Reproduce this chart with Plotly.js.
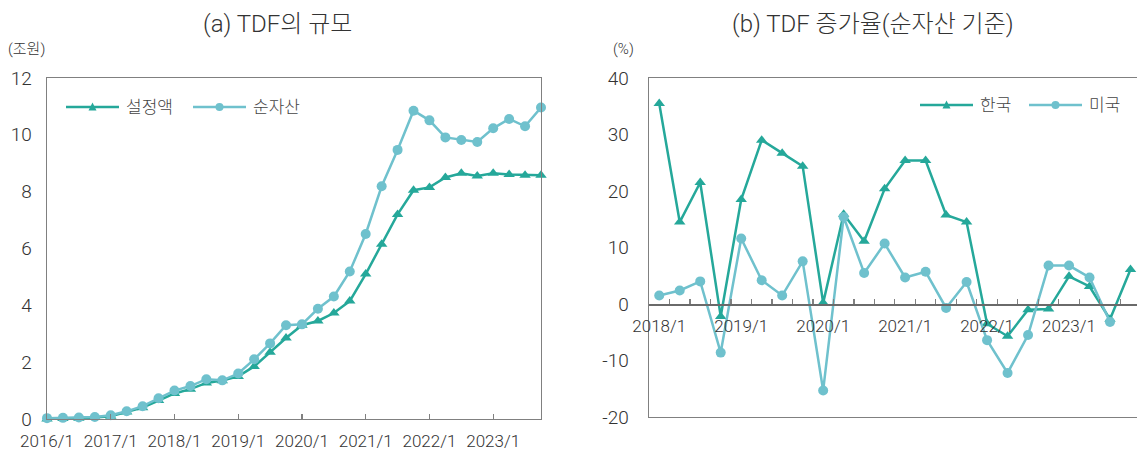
<!DOCTYPE html>
<html>
<head>
<meta charset="utf-8">
<script src="https://cdn.plot.ly/plotly-3.0.1.min.js"></script>
<style>html,body{margin:0;padding:0;background:#fff;}#chart{width:1137px;height:452px;}</style>
</head>
<body>
<div id="chart"></div>
<script>
// (a) TDF 규모 (조원), quarterly
const periodsA = ['2016/1','2016/4','2016/7','2016/10','2017/1','2017/4','2017/7','2017/10',
  '2018/1','2018/4','2018/7','2018/10','2019/1','2019/4','2019/7','2019/10',
  '2020/1','2020/4','2020/7','2020/10','2021/1','2021/4','2021/7','2021/10',
  '2022/1','2022/4','2022/7','2022/10','2023/1','2023/4','2023/7','2023/10'];
const setAmount = [0.0,0.02,0.03,0.05,0.1,0.25,0.4,0.65,0.9,1.05,1.27,1.35,1.5,1.85,2.35,2.85,
  3.3,3.45,3.73,4.15,5.1,6.15,7.2,8.05,8.15,8.5,8.65,8.55,8.65,8.6,8.58,8.58];
const netAsset = [0.03,0.04,0.05,0.07,0.13,0.27,0.45,0.73,1.0,1.16,1.4,1.36,1.6,2.1,2.66,3.3,
  3.33,3.88,4.31,5.19,6.51,8.19,9.47,10.85,10.51,9.91,9.82,9.75,10.23,10.56,10.3,10.96];
const yearTicksA = ['2016/1','2017/1','2018/1','2019/1','2020/1','2021/1','2022/1','2023/1'];

// (b) TDF 증가율 (순자산 기준, %)
const periodsB = periodsA.slice(8);
const korea = [35.5,14.5,21.5,-2.2,18.5,29.0,26.7,24.4,0.2,15.9,11.1,20.4,25.4,25.4,15.75,14.5,
  -3.5,-5.7,-1.0,-0.9,4.9,3.1,-2.7,6.1];
const usa = [1.5,2.4,4.0,-8.6,11.6,4.2,1.5,7.55,-15.3,15.4,5.5,10.7,4.7,5.7,-0.7,3.9,
  -6.4,-12.2,-5.5,6.8,6.8,4.7,-3.2,null];
const yearTicksB = ['2018/1','2019/1','2020/1','2021/1','2022/1','2023/1'];
const yTicksB = [-20,-10,0,10,20,30,40];

const seriesNamesA = ['설정액','순자산'];
const seriesNamesB = ['한국','미국'];

const DARK = '#25A89A', LIGHT = '#6FC1CD';
const FONT = 'Roboto, Noto Sans CJK KR, sans-serif';
const TXT = '#333';
const W = 1137, H = 452;
const px = v => v / W, py = v => 1 - v / H;

const yDomA = [py(419), py(78)];
const yDomB = [py(417), py(78)];
const zeroPos = yDomB[0] + (0 - (-20)) / 60 * (yDomB[1] - yDomB[0]);
const rangeB = [-0.5, (1137 - 659) / 20.5];

function series(x, y, name, color, symbol, xa, ya) {
  return {x: x, y: y, type: 'scatter', mode: 'lines+markers', name: name, showlegend: false,
    line: {color: color, width: 2.5}, marker: {symbol: symbol, size: 10, color: color},
    cliponaxis: false, xaxis: xa, yaxis: ya};
}

const traces = [
  series(periodsA, setAmount, seriesNamesA[0], DARK, 'triangle-up', 'x', 'y'),
  series(periodsA, netAsset, seriesNamesA[1], LIGHT, 'circle', 'x', 'y'),
  series(periodsB, korea, seriesNamesB[0], DARK, 'triangle-up', 'x2', 'y2'),
  series(periodsB, usa, seriesNamesB[1], LIGHT, 'circle', 'x2', 'y2'),
  // empty traces so that the zero-line axes (x3, x4) get drawn
  {x: [null], y: [null], type: 'scatter', mode: 'markers', showlegend: false, hoverinfo: 'skip', xaxis: 'x3', yaxis: 'y2'},
  {x: [null], y: [null], type: 'scatter', mode: 'markers', showlegend: false, hoverinfo: 'skip', xaxis: 'x4', yaxis: 'y2'}
];

const axisLine = '#808080';
const xTickFont = {family: FONT, size: 17, color: TXT, weight: 300};
const yTickFont = {family: FONT, size: 19, color: TXT, weight: 300};

// hand-drawn legends (long line + small marker + label), placed in pixels
const shapes = [];
const annotations = [];
function legendItem(xStart, yc, color, symbol, label) {
  const len = 53;
  shapes.push({type: 'line', xref: 'paper', yref: 'paper', x0: px(xStart), x1: px(xStart + len),
    y0: py(yc), y1: py(yc), line: {color: color, width: 2.5}});
  const mx = px(xStart + len / 2), my = py(yc);
  if (symbol === 'circle') {
    shapes.push({type: 'circle', xref: 'paper', yref: 'paper', xsizemode: 'pixel', ysizemode: 'pixel',
      xanchor: mx, yanchor: my, x0: -4, x1: 4, y0: -4, y1: 4, fillcolor: color, line: {width: 0}});
  } else {
    shapes.push({type: 'path', xref: 'paper', yref: 'paper', xsizemode: 'pixel', ysizemode: 'pixel',
      xanchor: mx, yanchor: my, path: 'M-4,-3.5 L4,-3.5 L0,4.5 Z', fillcolor: color, line: {width: 0}});
  }
  annotations.push({text: label, xref: 'paper', yref: 'paper', x: px(xStart + len + 5), y: py(yc),
    xanchor: 'left', yanchor: 'middle', showarrow: false, font: {family: FONT, size: 17, color: '#444', weight: 300}});
}
legendItem(66, 107, DARK, 'triangle', seriesNamesA[0]);
legendItem(193, 107, LIGHT, 'circle', seriesNamesA[1]);
legendItem(920, 105, DARK, 'triangle', seriesNamesB[0]);
legendItem(1029, 105, LIGHT, 'circle', seriesNamesB[1]);

annotations.push(
  {text: '(a) TDF의 규모', xref: 'paper', yref: 'paper', x: px(277), y: py(24), xanchor: 'center', yanchor: 'middle',
   showarrow: false, font: {family: FONT, size: 24, color: TXT, weight: 300}},
  {text: '(b) TDF 증가율(순자산 기준)', xref: 'paper', yref: 'paper', x: px(873), y: py(24), xanchor: 'center', yanchor: 'middle',
   showarrow: false, font: {family: FONT, size: 24, color: TXT, weight: 300}},
  {text: '(조원)', xref: 'paper', yref: 'paper', x: px(6), y: py(49), xanchor: 'left', yanchor: 'middle',
   showarrow: false, font: {family: FONT, size: 15, color: TXT, weight: 300}},
  {text: '(%)', xref: 'paper', yref: 'paper', x: px(611), y: py(49), xanchor: 'left', yanchor: 'middle',
   showarrow: false, font: {family: FONT, size: 15, color: TXT, weight: 300}}
);

const layout = {
  width: W, height: H,
  margin: {l: 0, r: 0, t: 0, b: 0},
  paper_bgcolor: '#fff', plot_bgcolor: 'rgba(0,0,0,0)',
  font: {family: FONT, color: TXT},
  showlegend: false,
  xaxis: {
    domain: [px(47), px(541)], anchor: 'y', type: 'category',
    categoryarray: periodsA, range: [0, periodsA.length - 1],
    showgrid: false, zeroline: false, showline: true, mirror: true, linecolor: axisLine, linewidth: 1.3,
    tickmode: 'array', tickvals: yearTicksA, ticktext: yearTicksA,
    ticks: 'inside', ticklen: 5, tickcolor: axisLine, tickwidth: 1.2,
    tickfont: xTickFont, tickangle: 0, ticklabelstandoff: 6
  },
  yaxis: {
    domain: yDomA, anchor: 'x', range: [0, 12], dtick: 2, tick0: 0,
    showgrid: false, zeroline: false, showline: true, mirror: true, linecolor: axisLine, linewidth: 1.3,
    ticks: '', ticklabelstandoff: 10, tickfont: yTickFont
  },
  xaxis2: {
    domain: [px(649), 1], anchor: 'y2', type: 'category',
    categoryarray: periodsB, range: rangeB,
    showgrid: false, zeroline: false, showline: true, mirror: true, linecolor: axisLine, linewidth: 1.3,
    showticklabels: false, ticks: ''
  },
  xaxis3: {
    overlaying: 'x2', anchor: 'free', position: zeroPos, type: 'category',
    categoryarray: periodsB, range: rangeB, tickson: 'boundaries',
    showgrid: false, zeroline: false, showline: true, linecolor: '#6a6a6a', linewidth: 1.6,
    ticks: 'inside', ticklen: 5, tickcolor: axisLine, tickwidth: 1.2, showticklabels: false
  },
  xaxis4: {
    overlaying: 'x2', anchor: 'free', position: zeroPos, type: 'category',
    categoryarray: periodsB, range: rangeB,
    showgrid: false, zeroline: false, showline: false,
    tickmode: 'array', tickvals: yearTicksB, ticktext: yearTicksB, ticks: '',
    ticklabelstandoff: 10, tickfont: xTickFont, tickangle: 0
  },
  yaxis2: {
    domain: yDomB, anchor: 'x2', range: [-20, 40],
    tickmode: 'array', tickvals: yTicksB, ticktext: yTicksB.map(String),
    showgrid: false, zeroline: false, showline: true, linecolor: axisLine, linewidth: 1.3,
    ticks: '', ticklabelstandoff: 15, tickfont: yTickFont
  },
  shapes: shapes,
  annotations: annotations
};

Plotly.newPlot('chart', traces, layout, {displayModeBar: false, staticPlot: true});
</script>
</body>
</html>
